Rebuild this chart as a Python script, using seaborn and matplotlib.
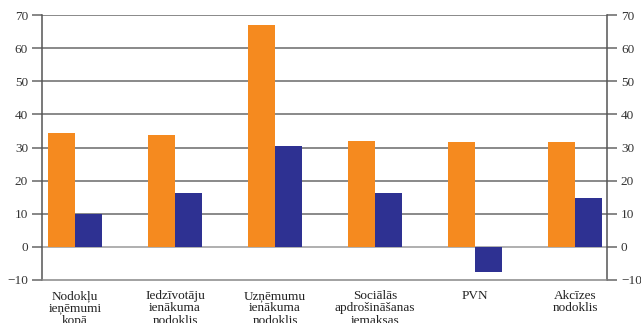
import matplotlib
matplotlib.use("Agg")
import matplotlib.pyplot as plt
import seaborn as sns
import pandas as pd

categories = [
    "Nodokļu\nieņēmumi\nkopā",
    "Iedzīvotāju\nienākuma\nnodoklis",
    "Uzņēmumu\nienākuma\nnodoklis",
    "Sociālās\napdrošināšanas\niemaksas",
    "PVN",
    "Akcīzes\nnodoklis",
]
series_a = [34.3, 33.7, 67.0, 31.9, 31.6, 31.6]
series_b = [9.9, 16.4, 30.4, 16.4, -7.5, 14.7]
series_names = ["A", "B"]
yticks = [-10, 0, 10, 20, 30, 40, 50, 60, 70]

df = pd.DataFrame({
    "cat": categories * 2,
    "val": series_a + series_b,
    "ser": [series_names[0]] * 6 + [series_names[1]] * 6,
})

sns.set_theme(style="white")
plt.rcParams["font.family"] = ["Liberation Serif", "DejaVu Serif"]

fig = plt.figure(figsize=(6.41, 3.23), dpi=100)
ax = fig.add_axes([42 / 641, 1 - 280 / 323, 565 / 641, 265 / 323])

sns.barplot(data=df, x="cat", y="val", hue="ser", order=categories,
            palette=["#F58A1F", "#2E3192"], width=0.54, saturation=1,
            legend=False, ax=ax, zorder=3, linewidth=0, edgecolor="none")

ax.set_xlim(-0.33, 5.32)
ax.set_ylim(-10, 70)
ax.set_yticks(yticks)
ax.set_xlabel("")
ax.set_ylabel("")
for y in yticks[1:]:
    ax.axhline(y, color="#6a6a6a" if y != 0 else "#9a9a9a", lw=1.1, zorder=1)

for s in ["left", "right"]:
    ax.spines[s].set_visible(True)
    ax.spines[s].set_color("#555555")
    ax.spines[s].set_linewidth(1.1)
ax.spines["top"].set_visible(False)
ax.spines["bottom"].set_color("#888888")
ax.spines["bottom"].set_linewidth(1.1)

ax.tick_params(axis="y", which="both", left=True, right=True, labelleft=True,
               labelright=True, direction="out", length=7, width=1.1,
               color="#666666", labelsize=9.5, labelcolor="#333333", pad=3)
ax.tick_params(axis="x", bottom=False, labelsize=9.5, labelcolor="#222222", pad=1)
for lab in ax.get_xticklabels():
    lab.set_linespacing(1.05)

fig.savefig("out.png", dpi=100)
